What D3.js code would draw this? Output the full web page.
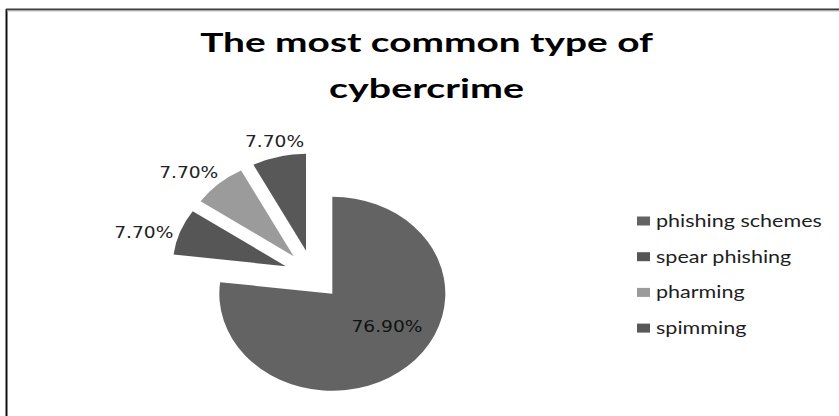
<!DOCTYPE html>
<html>
<head>
<meta charset="utf-8">
<script src="https://cdn.jsdelivr.net/npm/d3@7"></script>
<style>
  html, body { margin: 0; padding: 0; background: #fff; }
  svg { display: block; }
</style>
</head>
<body>
<div id="chart"></div>
<script>
// ---- data ----
const titleLines = ["The most common type of", "cybercrime"];
const categories = ["phishing schemes", "spear phishing", "pharming", "spimming"];
const values = [76.9, 7.7, 7.7, 7.7];
const valueLabels = ["76.90%", "7.70%", "7.70%", "7.70%"];
const colors = ["#636363", "#565656", "#9b9b9b", "#585858"];

// ---- layout / style ----
const W = 839, H = 416;
const sx = 1.165;          // horizontal stretch of the picture
const cx = 313, cy = 275;  // pie centre
const r = 97;              // pie radius (vertical)
const explode = 25;
const labelAngleShift = [-13.8, -4.5, -4.5, 0]; // degrees, label placement nudges

const svg = d3.select("#chart").append("svg")
  .attr("width", W).attr("height", H);

svg.append("rect").attr("width", W).attr("height", H).attr("fill", "#fff");

// frame (left and top edges visible)
svg.append("line").attr("x1", 6.5).attr("x2", 6.5).attr("y1", 9).attr("y2", H + 5)
  .attr("stroke", "#111").attr("stroke-width", 2);
svg.append("line").attr("x1", 6).attr("x2", W + 5).attr("y1", 9.5).attr("y2", 9.5)
  .attr("stroke", "#3c3c3c").attr("stroke-width", 2);
svg.append("line").attr("x1", 7).attr("x2", W + 5).attr("y1", 11).attr("y2", 11)
  .attr("stroke", "#bbb").attr("stroke-width", 1);

// title
const titleW = [453, 195];
const titleY = [52, 98];
const tt = svg.selectAll("text.title").data(titleLines).enter().append("text")
  .attr("class", "title")
  .attr("text-anchor", "middle")
  .attr("font-family", "Lato, 'Open Sans', sans-serif")
  .attr("font-weight", 700).attr("font-size", 27.5)
  .attr("fill", "#000")
  .text(d => d);
tt.each(function(d, i) {
  const w = this.getComputedTextLength();
  d3.select(this).attr("transform", `translate(426.5,${titleY[i]}) scale(${titleW[i] / w},1)`);
});

// pie
const pie = d3.pie().sort(null).value(d => d)(values);
const arc = d3.arc().innerRadius(0).outerRadius(r);
const pg = svg.append("g").attr("transform", `translate(${cx},${cy}) scale(${sx},1)`);

function mid(d) { return (d.startAngle + d.endAngle) / 2; }

pg.selectAll("path").data(pie).enter().append("path")
  .attr("d", arc)
  .attr("transform", d => {
    const a = mid(d);
    return `translate(${explode * Math.sin(a)},${-explode * Math.cos(a)})`;
  })
  .attr("fill", (d, i) => colors[i]);

// data labels
const labelFont = 16;
const labelW = 50.6, labelH = 14; // unstretched label box
const outR = r + explode + 3;
pie.forEach((d, i) => {
  const m = mid(d);
  const a = m + labelAngleShift[i] * Math.PI / 180;
  const ux = Math.sin(a), uy = -Math.cos(a);
  let px, py;
  if (i === 0) {
    const rr = 57;
    px = explode * Math.sin(m) + rr * ux;
    py = -explode * Math.cos(m) + rr * uy;
  } else {
    const ext = Math.abs(ux) * labelW / 2 + Math.abs(uy) * labelH / 2;
    px = (outR + ext) * ux;
    py = (outR + ext) * uy;
  }
  svg.append("text")
    .attr("transform", `translate(${cx + px * sx},${cy + py}) scale(${sx},1)`)
    .attr("text-anchor", "middle")
    .attr("dominant-baseline", "central")
    .attr("font-family", "'DejaVu Sans', Verdana, sans-serif")
    .attr("font-size", labelFont)
    .attr("fill", i === 0 ? "#111" : "#222")
    .text(valueLabels[i]);
});

// legend
const legX = 637, legTextX = 656, legY0 = 221, legStep = 35.7;
const leg = svg.append("g");
const items = leg.selectAll("g").data(categories).enter().append("g");
items.append("rect")
  .attr("x", legX).attr("y", (d, i) => legY0 + i * legStep - 4.5)
  .attr("width", 13).attr("height", 9)
  .attr("fill", (d, i) => colors[i]);
const lt = items.append("text")
  .attr("font-family", "Lato, 'Open Sans', sans-serif")
  .attr("font-size", 17)
  .attr("fill", "#1e1e1e")
  .text(d => d);
const w0 = lt.nodes()[0].getComputedTextLength();
const lsx = 166 / w0;
lt.attr("transform", (d, i) => `translate(${legTextX},${legY0 + i * legStep + 6}) scale(${lsx},1)`);
</script>
</body>
</html>
